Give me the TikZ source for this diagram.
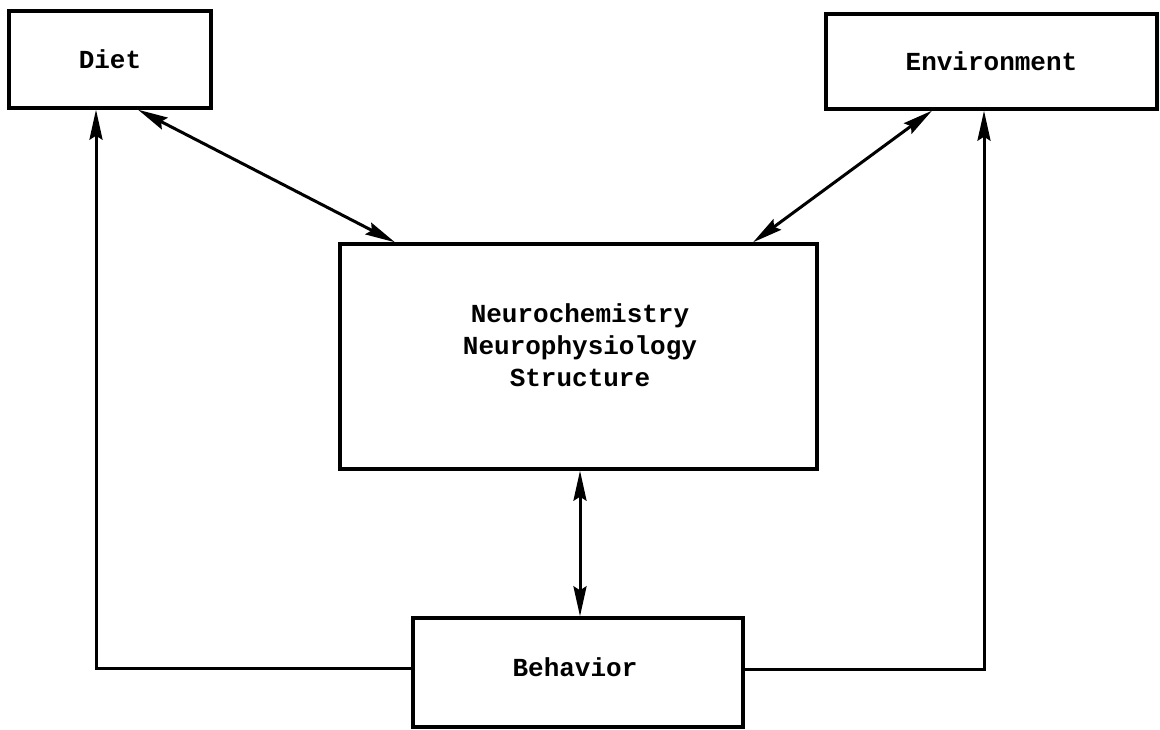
\documentclass[tikz,border=0pt]{standalone}
\usepackage{fontspec}
\setmonofont{Liberation Mono}
\usetikzlibrary{arrows.meta}
\begin{document}
\begin{tikzpicture}[x=1pt,y=-1pt,
  box/.style={draw, line width=3.4pt, inner sep=0pt, align=center, font=\ttfamily\bfseries\fontsize{26}{32}\selectfont},
  label/.style={inner sep=0pt, align=center, font=\ttfamily\bfseries\fontsize{26}{32}\selectfont},
  tip/.tip={Stealth[length=30pt,width=13pt,inset=4pt]},
  link/.style={line width=3pt, -tip},
  both/.style={line width=3pt, tip-tip}]
\useasboundingbox (0,0) rectangle (1160,730);
\node[box, minimum width=202pt, minimum height=97pt] (diet) at (110,59.5) {Diet};
\node[box, minimum width=331pt, minimum height=95pt] (env) at (991.5,61.5) {Environment};
\node[box, minimum width=477pt, minimum height=225pt] (central) at (578.5,356.5) {};
\node[label] (centraltext) at (580,345) {Neurochemistry\\Neurophysiology\\Structure};
\node[box, minimum width=330pt, minimum height=109pt] (behavior) at (578,672.5) {};
\node[label] (behaviortext) at (575,667) {Behavior};
\draw[both] ([xshift=28pt]diet.south) -- ([xshift=-183.5pt]central.north);
\draw[both] ([xshift=-59.5pt]env.south) -- ([xshift=174.5pt]central.north);
\draw[both] ([xshift=1.5pt]central.south) -- ([xshift=2pt]behavior.north);
\draw[link] ([yshift=4.5pt]behavior.west) -| ([xshift=-14pt]diet.south);
\draw[link] ([yshift=3.5pt]behavior.east) -| ([xshift=-7.5pt]env.south);
\end{tikzpicture}
\end{document}
